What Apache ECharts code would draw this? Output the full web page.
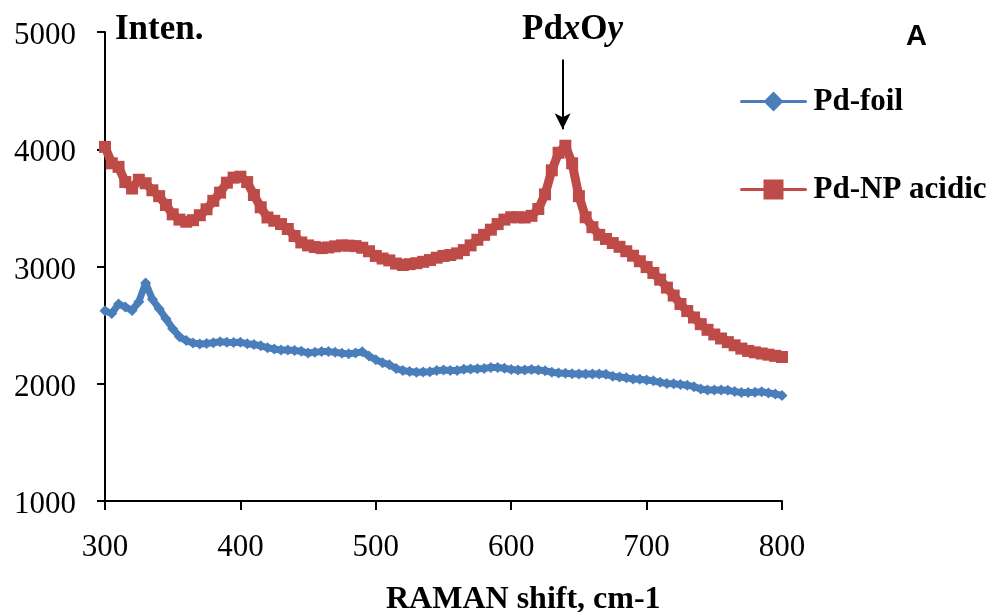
<!DOCTYPE html>
<html>
<head>
<meta charset="utf-8">
<script src="https://cdn.jsdelivr.net/npm/echarts@6/dist/echarts.min.js"></script>
<style>
  html, body { margin: 0; padding: 0; background: #fff; }
  #chart { width: 995px; height: 612px; }
</style>
</head>
<body>
<div id="chart"></div>
<script>
// Raman shift (cm-1), one sample every 5 cm-1
const ramanShift = [
  300, 305, 310, 315, 320, 325, 330, 335, 340, 345,
  350, 355, 360, 365, 370, 375, 380, 385, 390, 395,
  400, 405, 410, 415, 420, 425, 430, 435, 440, 445,
  450, 455, 460, 465, 470, 475, 480, 485, 490, 495,
  500, 505, 510, 515, 520, 525, 530, 535, 540, 545,
  550, 555, 560, 565, 570, 575, 580, 585, 590, 595,
  600, 605, 610, 615, 620, 625, 630, 635, 640, 645,
  650, 655, 660, 665, 670, 675, 680, 685, 690, 695,
  700, 705, 710, 715, 720, 725, 730, 735, 740, 745,
  750, 755, 760, 765, 770, 775, 780, 785, 790, 795,
  800
];

// Intensity, Pd foil
const pdFoil = [
  2623, 2600, 2680, 2655, 2625, 2700, 2860, 2720, 2640, 2555,
  2470, 2400, 2368, 2347, 2340, 2343, 2350, 2358, 2354, 2352,
  2353, 2342, 2335, 2324, 2308, 2296, 2288, 2288, 2284, 2278,
  2262, 2268, 2274, 2274, 2268, 2260, 2256, 2262, 2272, 2236,
  2205, 2180, 2162, 2130, 2112, 2104, 2098, 2100, 2103, 2112,
  2117, 2114, 2112, 2124, 2126, 2128, 2131, 2138, 2138, 2132,
  2122, 2117, 2117, 2122, 2118, 2111, 2098, 2091, 2089, 2085,
  2083, 2083, 2083, 2083, 2080, 2064, 2058, 2052, 2040, 2038,
  2032, 2025, 2012, 2002, 2000, 1994, 1988, 1975, 1955, 1947,
  1947, 1947, 1944, 1933, 1926, 1926, 1927, 1932, 1922, 1913,
  1900
];

// Intensity, Pd nanoparticles (acidic)
const pdNpAcidic = [
  4020, 3880, 3850, 3720, 3665, 3740, 3710, 3650, 3600, 3525,
  3445, 3400, 3382, 3395, 3437, 3488, 3560, 3630, 3715, 3758,
  3766, 3720, 3610, 3505, 3418, 3390, 3362, 3320, 3260, 3205,
  3180, 3166, 3157, 3163, 3172, 3180, 3178, 3174, 3160, 3130,
  3090, 3068, 3052, 3025, 3013, 3020, 3028, 3040, 3055, 3075,
  3090, 3098, 3112, 3140, 3180, 3228, 3270, 3314, 3362, 3400,
  3420, 3420, 3418, 3432, 3490, 3615, 3820, 3970, 4030, 3880,
  3600, 3420, 3335, 3270, 3235, 3200, 3168, 3130, 3092, 3045,
  2995, 2945, 2888, 2820, 2752, 2680, 2620, 2565, 2508, 2460,
  2420, 2386, 2355, 2328, 2300, 2280, 2268, 2258, 2248, 2238,
  2228
];

const xTicks = [300, 400, 500, 600, 700, 800];
const yTicks = [1000, 2000, 3000, 4000, 5000];
const seriesNames = ['Pd-foil', 'Pd-NP acidic'];
const peakShift = 638; // PdxOy band position

const pairs = (xs, ys) => xs.map((x, i) => [x, ys[i]]);

const SERIF = '"Liberation Serif", "Times New Roman", serif';
const BLUE = '#4A7EBB';
const RED = '#BE4B48';

const chart = echarts.init(document.getElementById('chart'), null, { renderer: 'canvas' });

chart.setOption({
  animation: false,
  backgroundColor: '#ffffff',
  grid: { left: 105, right: 213, top: 32, bottom: 111, containLabel: false },
  xAxis: {
    type: 'value',
    min: xTicks[0],
    max: xTicks[xTicks.length - 1],
    interval: 100,
    axisLine: { show: true, onZero: false, lineStyle: { color: '#000', width: 2 } },
    axisTick: { show: true, inside: false, length: 9, lineStyle: { color: '#000', width: 2 } },
    splitLine: { show: false },
    axisLabel: { margin: 31, color: '#000', fontFamily: SERIF, fontSize: 31, formatter: v => String(v) }
  },
  yAxis: {
    type: 'value',
    min: yTicks[0],
    max: yTicks[yTicks.length - 1],
    interval: 1000,
    axisLine: { show: true, onZero: false, lineStyle: { color: '#000', width: 2 } },
    axisTick: { show: true, inside: false, length: 8, lineStyle: { color: '#000', width: 2 } },
    splitLine: { show: false },
    axisLabel: {
      margin: 29, color: '#000', fontFamily: SERIF, fontSize: 31,
      formatter: v => '{v|' + v + '}',
      rich: { v: { fontFamily: SERIF, fontSize: 31, color: '#000', padding: [8, 0, 0, 0] } }
    }
  },
  legend: {
    orient: 'vertical',
    left: 740,
    top: 86,
    padding: 0,
    itemWidth: 64,
    itemHeight: 25,
    itemGap: 57,
    data: seriesNames,
    lineStyle: { width: 3 },
    textStyle: {
      color: '#000', fontFamily: SERIF, fontWeight: 'bold', fontSize: 31,
      padding: [0, 0, 0, 3]
    }
  },
  series: [
    {
      name: seriesNames[0],
      type: 'line',
      data: pairs(ramanShift, pdFoil),
      symbol: 'diamond',
      symbolSize: 11,
      showSymbol: true,
      showAllSymbol: true,
      color: BLUE,
      itemStyle: { color: BLUE },
      lineStyle: { color: BLUE, width: 7, join: 'round', cap: 'round' },
      z: 2
    },
    {
      name: seriesNames[1],
      type: 'line',
      data: pairs(ramanShift, pdNpAcidic),
      symbol: 'rect',
      symbolSize: 12,
      showSymbol: true,
      showAllSymbol: true,
      color: RED,
      itemStyle: { color: RED },
      lineStyle: { color: RED, width: 9, join: 'round', cap: 'round' },
      z: 3,
      markLine: {
        silent: true,
        symbol: ['none', 'arrow'],
        symbolSize: [12, 16],
        label: { show: false },
        lineStyle: { color: '#000', width: 2, type: 'solid' },
        data: [[
          { coord: [peakShift, 4765] },
          { coord: [peakShift, 4170] }
        ]]
      }
    }
  ],
  graphic: [
    {
      type: 'text', left: 115, top: 12,
      style: { text: 'Inten.', fill: '#000', font: 'bold 35px ' + SERIF }
    },
    {
      type: 'text', left: 522, top: 12,
      style: {
        text: '{n|Pd}{i|x}{n|O}{i|y}',
        rich: {
          n: { fill: '#000', fontFamily: SERIF, fontWeight: 'bold', fontSize: 35 },
          i: { fill: '#000', fontFamily: SERIF, fontWeight: 'bold', fontStyle: 'italic', fontSize: 35 }
        }
      }
    },
    {
      type: 'text', left: 906, top: 22,
      style: { text: 'A', fill: '#000', font: 'bold 29px "Liberation Sans", Arial, sans-serif' }
    },
    {
      type: 'text', left: 386, top: 584,
      style: { text: 'RAMAN shift, cm-1', fill: '#000', font: 'bold 32px ' + SERIF }
    }
  ]
});
</script>
</body>
</html>
